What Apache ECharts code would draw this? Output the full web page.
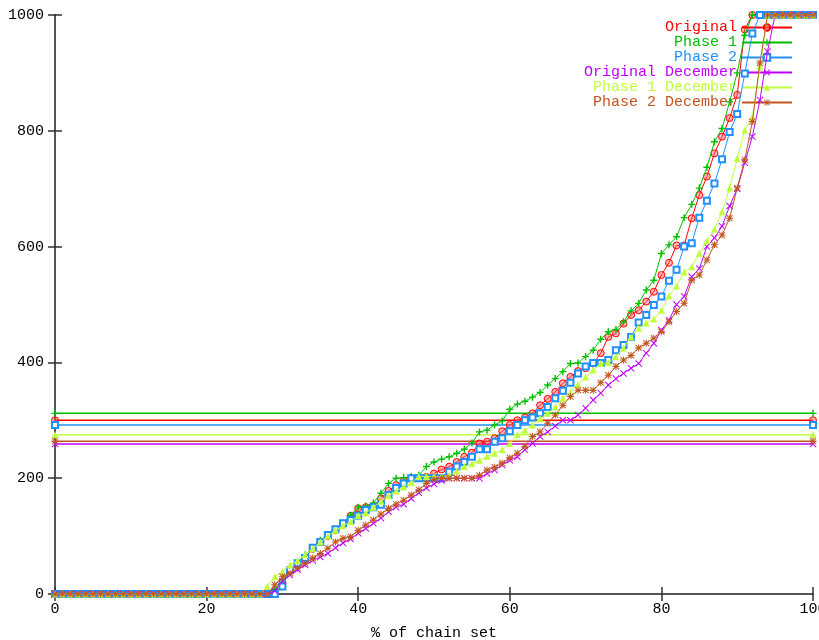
<!DOCTYPE html>
<html>
<head>
<meta charset="utf-8">
<script src="https://cdn.jsdelivr.net/npm/echarts@6/dist/echarts.min.js"></script>
<style>
  html, body { margin: 0; padding: 0; background: #fff; }
  #chart { width: 819px; height: 640px; }
</style>
</head>
<body>
<div id="chart"></div>
<script>
// x positions (% of chain set)
var xPct = [0,1,2,3,4,5,6,7,8,9,10,11,12,13,14,15,16,17,18,19,20,21,22,23,24,25,26,27,28,29,30,31,32,33,34,35,36,37,38,39,40,41,42,43,44,45,46,47,48,49,50,51,52,53,54,55,56,57,58,59,60,61,62,63,64,65,66,67,68,69,70,71,72,73,74,75,76,77,78,79,80,81,82,83,84,85,86,87,88,89,90,91,92,93,94,95,96,97,98,99,100]

var seriesNames = ['Original', 'Phase 1', 'Phase 2', 'Original December', 'Phase 1 December', 'Phase 2 December']

var original = [0,0,0,0,0,0,0,0,0,0,0,0,0,0,0,0,0,0,0,0,0,0,0,0,0,0,0,0,0,5,20,40,52,62,78,90,100,110,120,135,148,150,152,165,178,188,195,200,200,202,208,215,220,228,237,244,260,263,269,281,292,300,305,312,326,337,349,364,375,385,390,398,416,444,450,467,482,490,505,522,551,572,602,602,649,689,721,761,790,822,862,975,1000,1000,1000,1000,1000,1000,1000,1000,1000]
var phase1 = [0,0,0,0,0,0,0,0,0,0,0,0,0,0,0,0,0,0,0,0,0,0,0,0,0,0,0,0,0,8,25,40,53,68,80,93,102,110,122,136,150,152,157,174,191,200,201,203,205,220,228,233,237,243,250,261,280,283,292,299,319,328,333,340,348,361,372,384,398,399,410,421,440,453,457,470,489,502,525,542,588,603,617,650,673,701,737,781,804,850,900,965,1000,1000,1000,1000,1000,1000,1000,1000,1000]
var phase2 = [0,0,0,0,0,0,0,0,0,0,0,0,0,0,0,0,0,0,0,0,0,0,0,0,0,0,0,0,0,0,13,41,53,62,80,90,102,112,122,128,135,145,150,154,171,183,191,200,200,200,200,200,211,220,228,237,250,250,263,269,281,292,300,305,312,323,338,351,365,381,393,399,399,404,421,430,444,469,482,499,514,541,560,600,606,650,679,709,751,798,829,899,968,1000,1000,1000,1000,1000,1000,1000,1000]
var originalDec = [0,0,0,0,0,0,0,0,0,0,0,0,0,0,0,0,0,0,0,0,0,0,0,0,0,0,0,0,0,5,22,33,42,50,58,64,70,80,88,95,105,113,122,131,142,150,155,165,175,183,190,196,200,200,200,200,200,208,214,223,231,237,249,260,272,280,290,300,300,309,321,335,347,361,372,381,390,398,416,433,456,473,500,514,548,562,600,615,635,670,700,745,790,853,937,1000,1000,1000,1000,1000,1000]
var phase1Dec = [0,0,0,0,0,0,0,0,0,0,0,0,0,0,0,0,0,0,0,0,0,0,0,0,0,0,0,0,13,30,39,50,58,68,78,90,100,110,118,125,135,140,150,160,170,178,185,192,203,203,203,203,205,212,220,225,231,238,243,249,260,275,283,292,303,312,323,338,349,362,375,387,398,400,410,425,444,459,468,475,490,515,532,556,565,588,610,630,660,701,752,801,824,910,1000,1000,1000,1000,1000,1000,1000]
var phase2Dec = [0,0,0,0,0,0,0,0,0,0,0,0,0,0,0,0,0,0,0,0,0,0,0,0,0,0,0,0,0,16,30,36,45,53,62,70,79,90,96,99,110,119,128,138,148,155,162,171,180,191,198,200,200,200,200,200,205,214,219,226,235,243,255,272,280,295,309,326,341,352,352,352,365,378,393,404,412,425,433,442,453,470,488,502,542,551,577,603,620,649,701,750,816,917,1000,1000,1000,1000,1000,1000,1000]

// flat reference level drawn for each series
var levels = [300, 312, 292, 259, 275, 264]

var xTicks = [0, 20, 40, 60, 80, 100]
var yTicks = [0, 200, 400, 600, 800, 1000]

var colors = ['#ff0000', '#00c000', '#1e90ff', '#c000ff', '#c0ff40', '#c0561e']
var symbols = [
  'circle',
  'path://M4,0H6V4H10V6H6V10H4V6H0V4H4Z',
  'emptyRect',
  'path://M1,0L5,4L9,0L10,1L6,5L10,9L9,10L5,6L1,10L0,9L4,5L0,1Z',
  'triangle',
  'path://M4.3,0H5.7V3.3L8.8,0.2L9.8,1.2L6.7,4.3H10V5.7H6.7L9.8,8.8L8.8,9.8L5.7,6.7V10H4.3V6.7L1.2,9.8L0.2,8.8L3.3,5.7H0V4.3H3.3L0.2,1.2L1.2,0.2L4.3,3.3Z'
]
var allValues = [original, phase1, phase2, originalDec, phase1Dec, phase2Dec]

var font = "'Liberation Mono', 'DejaVu Sans Mono', monospace"
var border = { show: true, lineStyle: { color: '#555', width: 2 } }
var tick = { show: true, inside: true, length: 7, lineStyle: { color: '#333', width: 1.5 } }

var chart = echarts.init(document.getElementById('chart'))

var series = []
allValues.forEach(function (vals, i) {
  var itemStyle = { color: colors[i] }
  if (i === 0) {
    itemStyle = { color: 'rgba(255,90,90,0.45)', borderColor: colors[i], borderWidth: 1 }
  }
  series.push({
    name: seriesNames[i],
    type: 'line',
    data: xPct.map(function (x, k) { return [x, vals[k]] }),
    symbol: symbols[i],
    symbolSize: i === 2 ? 6 : 7,
    showAllSymbol: true,
    lineStyle: { color: colors[i], width: 1 },
    itemStyle: itemStyle,
    z: 3 + i
  })
  // horizontal level line
  series.push({
    name: seriesNames[i],
    type: 'line',
    data: [[xTicks[0], levels[i]], [xTicks[xTicks.length - 1], levels[i]]],
    symbol: symbols[i],
    symbolSize: i === 2 ? 6 : 7,
    lineStyle: { color: colors[i], width: 1.5 },
    itemStyle: itemStyle,
    z: 2
  })
})

chart.setOption({
  animation: false,
  backgroundColor: '#fff',
  grid: { left: 55, right: 6, top: 15, bottom: 46, outerBoundsMode: 'none', containLabel: false },
  legend: {
    orient: 'vertical',
    right: 26,
    top: 20,
    padding: 0,
    align: 'right',
    itemWidth: 50,
    itemHeight: 8,
    itemGap: 0,
    textStyle: { fontFamily: font, fontSize: 15, lineHeight: 15 },
    data: seriesNames.map(function (n, i) {
      return { name: n, textStyle: { color: colors[i] } }
    })
  },
  xAxis: [
    {
      type: 'value',
      min: xTicks[0],
      max: xTicks[xTicks.length - 1],
      interval: xTicks[1] - xTicks[0],
      name: '% of chain set',
      nameLocation: 'middle',
      nameGap: 32,
      nameTextStyle: { fontFamily: font, fontSize: 15, color: '#000' },
      axisLine: border,
      axisTick: tick,
      axisLabel: { fontFamily: font, fontSize: 15, color: '#000', margin: 8 },
      splitLine: { show: false }
    },
    {
      type: 'value',
      position: 'top',
      min: xTicks[0],
      max: xTicks[xTicks.length - 1],
      interval: xTicks[1] - xTicks[0],
      axisLine: border,
      axisTick: tick,
      axisLabel: { show: false },
      splitLine: { show: false }
    }
  ],
  yAxis: [
    {
      type: 'value',
      min: yTicks[0],
      max: yTicks[yTicks.length - 1],
      interval: yTicks[1] - yTicks[0],
      axisLine: border,
      axisTick: tick,
      axisLabel: {
        fontFamily: font, fontSize: 15, color: '#000', margin: 11,
        formatter: function (v) { return String(v) }
      },
      splitLine: { show: false }
    },
    {
      type: 'value',
      position: 'right',
      min: yTicks[0],
      max: yTicks[yTicks.length - 1],
      interval: yTicks[1] - yTicks[0],
      axisLine: border,
      axisTick: tick,
      axisLabel: { show: false },
      splitLine: { show: false }
    }
  ],
  series: series
})
</script>
</body>
</html>
